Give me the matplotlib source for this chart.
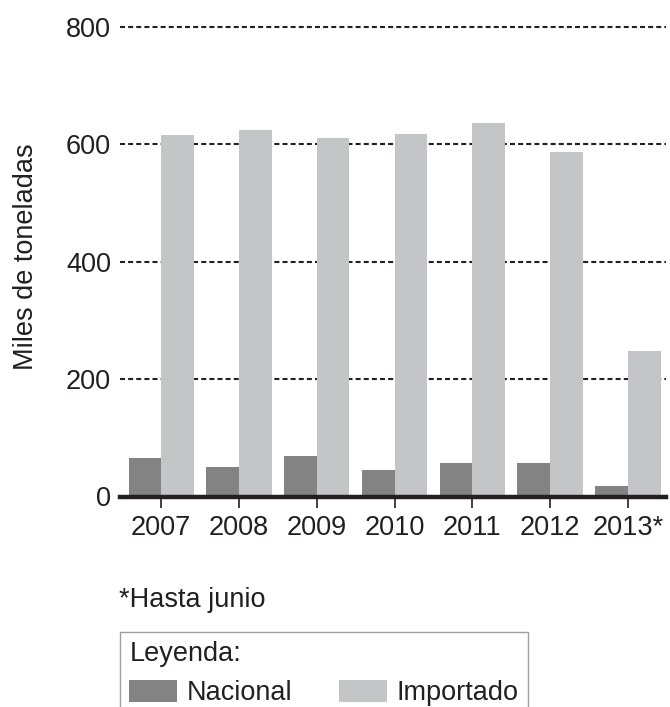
import matplotlib
matplotlib.use("Agg")
from matplotlib import pyplot as plt
import numpy as np

years = ['2007', '2008', '2009', '2010', '2011', '2012', '2013*']
nacional = [65, 51, 69, 46, 57, 57, 18]
importado = [616, 625, 611, 618, 636, 587, 248]
yticks = [0, 200, 400, 600, 800]

plt.rcParams['font.family'] = ['Liberation Sans', 'DejaVu Sans']
ink = '#231f20'
c_nac = '#838384'
c_imp = '#c4c5c7'
fs = 19.5

W, H = 670, 707
fig = plt.figure(figsize=(W / 100, H / 100), dpi=100)
ax = fig.add_axes([120 / W, 1 - 496.5 / H, 546 / W, (496.5 - 27) / H])

x = np.arange(len(years))
w = 0.42
b1 = ax.bar(x - w / 2, nacional, w, color=c_nac, label='Nacional')
b2 = ax.bar(x + w / 2, importado, w, color=c_imp, label='Importado')

ax.set_xlim(-0.53, 6.49)
ax.set_ylim(0, 800)
ax.set_xticks(x)
ax.set_xticklabels(years)
ax.set_yticks(yticks)
ax.set_axisbelow(True)
ax.yaxis.grid(True, color=ink, linestyle=(0, (2.4, 1.5)), linewidth=1.5)
for gl in ax.yaxis.get_gridlines():
    gl.set_clip_on(False)

for s in ['left', 'right', 'top']:
    ax.spines[s].set_visible(False)
ax.spines['bottom'].set_linewidth(3.2)
ax.spines['bottom'].set_color(ink)
ax.spines['bottom'].set_zorder(3)

ax.tick_params(axis='y', length=0, pad=6.5, labelsize=fs, labelcolor=ink)
ax.tick_params(axis='x', length=8, width=1.2, color=ink, pad=5.5,
               labelsize=fs, labelcolor=ink)

fig.text(26 / W, 1 - 257 / H, 'Miles de toneladas', rotation=90,
         ha='center', va='center', fontsize=fs, color=ink)
fig.text(119 / W, 1 - 600 / H, '*Hasta junio', ha='left', va='center',
         fontsize=fs, color=ink)

leg = fig.legend(handles=[b1, b2], title='Leyenda:', alignment='left',
                 ncol=2, loc='upper left',
                 bbox_to_anchor=(120 / W, 1 - 632 / H),
                 fontsize=fs, title_fontsize=fs, frameon=True,
                 fancybox=False, edgecolor='#a0a0a0', framealpha=1,
                 handlelength=1.75, handleheight=0.9, handletextpad=0.35,
                 columnspacing=1.75, borderpad=0.35, borderaxespad=0,
                 labelspacing=0.45)
leg.get_frame().set_linewidth(1.0)
for t in leg.get_texts():
    t.set_color(ink)
leg.get_title().set_color(ink)

fig.savefig('out.png', dpi=100)
